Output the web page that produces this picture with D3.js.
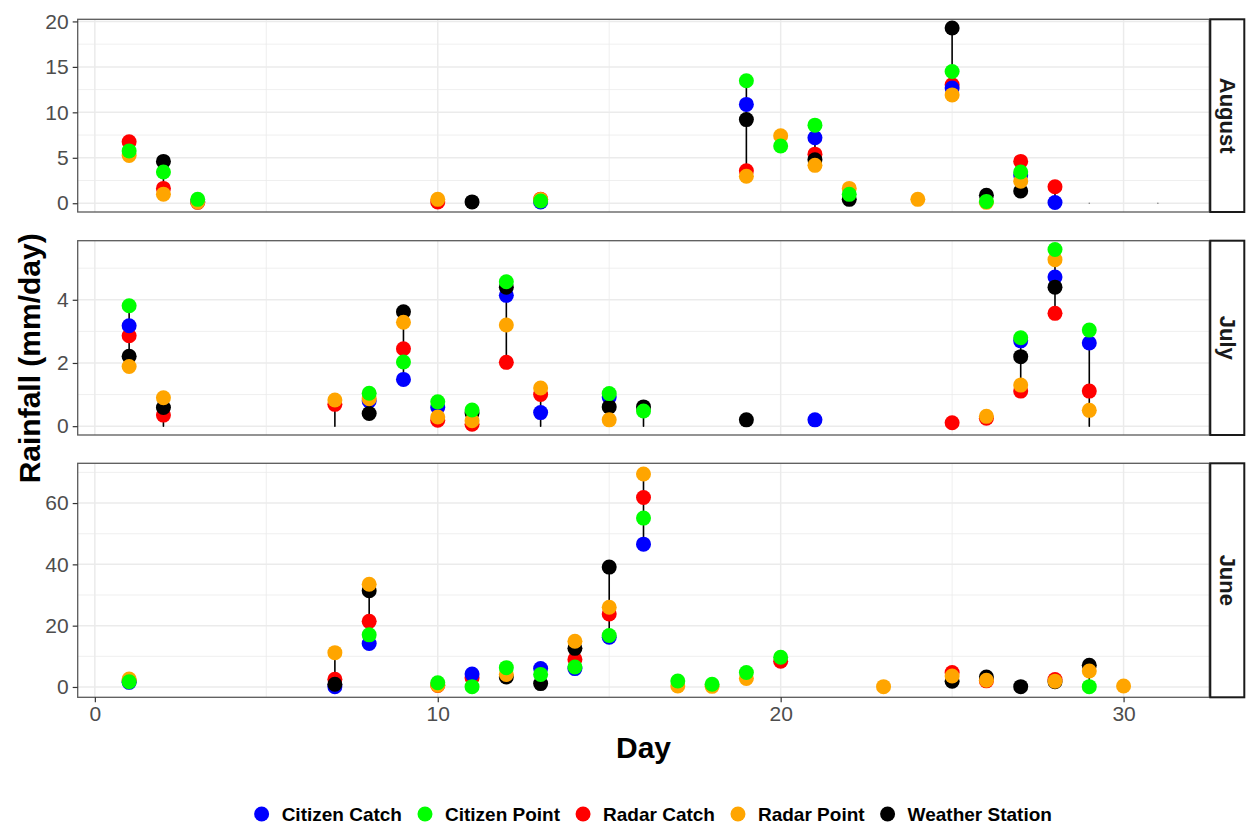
<!DOCTYPE html>
<html>
<head>
<meta charset="utf-8">
<script src="https://cdn.jsdelivr.net/npm/d3@7/dist/d3.min.js"></script>
<style>
  html, body { margin: 0; padding: 0; background: #ffffff; }
  svg { display: block; font-family: "Liberation Sans", Arial, Helvetica, sans-serif; }
</style>
</head>
<body>
<svg id="chart" width="1246" height="825"></svg>
<script>
// ---- Series and months -------------------------------------------------
const seriesNames = ["Citizen Catch", "Citizen Point", "Radar Catch", "Radar Point", "Weather Station"];
const seriesColors = ["#0000FF", "#00FF00", "#FF0000", "#FFA500", "#000000"];
// points are stacked in this order within a day (last one on top)
const drawOrder = ["Radar Catch", "Citizen Catch", "Weather Station", "Radar Point", "Citizen Point"];
const monthNames = ["August", "July", "June"];

// ---- Daily rainfall (mm/day); null = no reading, 0 = dry reading -------
const augustDays           = [1, 2, 3, 10, 11, 13, 19, 20, 21, 22, 24, 25, 26, 27, 28, 29, 31];
const augustCitizenCatch   = [null, null, 0.2, null, null, 0.15, 10.87, null, 7.21, null, null, 12.68, null, 3.1, 0.08, null, null];
const augustCitizenPoint   = [5.76, 3.44, 0.43, null, null, 0.25, 13.48, 6.3, 8.59, 0.98, null, 14.49, 0.2, 3.44, null, null, null];
const augustRadarCatch     = [6.77, 1.63, 0.1, 0.15, null, 0.45, 3.58, null, 5.4, null, null, 13.04, null, 4.6, 1.81, null, null];
const augustRadarPoint     = [5.25, 1.0, 0.15, 0.43, null, 0.4, 2.97, 7.43, 4.17, 1.63, 0.43, 11.92, 0.1, 2.43, null, null, null];
const augustWeatherStation = [null, 4.6, null, null, 0.15, null, 9.2, null, 4.78, 0.43, null, 19.27, 0.87, 1.34, null, 0, 0];

const julyDays           = [1, 2, 7, 8, 9, 10, 11, 12, 13, 15, 16, 19, 21, 25, 26, 27, 28, 29];
const julyCitizenCatch   = [3.18, 0, null, 0.8, 1.48, 0.59, null, 4.14, 0.43, 0.92, 0, null, 0.2, null, null, 2.7, 4.72, 2.63];
const julyCitizenPoint   = [3.81, null, null, 1.04, 2.03, 0.77, 0.51, 4.57, null, 1.03, 0.48, null, null, null, null, 2.8, 5.59, 3.04];
const julyRadarCatch     = [2.86, 0.35, 0.69, null, 2.45, 0.19, 0.06, 2.02, 1.0, null, null, null, null, 0.11, 0.25, 1.11, 3.57, 1.11];
const julyRadarPoint     = [1.89, 0.9, 0.83, 0.87, 3.29, 0.29, 0.17, 3.2, 1.21, 0.2, null, null, null, null, 0.31, 1.3, 5.27, 0.5];
const julyWeatherStation = [2.21, 0.59, 0, 0.4, 3.62, null, 0.42, 4.4, 0, 0.61, 0.61, 0.2, null, null, null, 2.2, 4.4, 0];

const juneDays           = [1, 7, 8, 10, 11, 12, 13, 14, 15, 16, 17, 18, 19, 20, 23, 25, 26, 27, 28, 29, 30];
const juneCitizenCatch   = [1.5, 0.1, 14.2, null, 4.2, null, 6.0, 6.0, 16.2, 46.6, null, null, null, null, null, null, null, null, null, null, null];
const juneCitizenPoint   = [1.7, null, 17.0, 1.4, 0.1, 6.3, 4.1, 6.5, 16.8, 55.1, 1.95, 0.9, 4.7, 9.7, null, null, null, null, null, 0.1, null];
const juneRadarCatch     = [2.0, 2.5, 21.4, 0.5, 3.0, null, null, 9.0, 23.8, 61.8, null, null, null, 8.4, null, 4.7, 2.0, null, 2.4, null, null];
const juneRadarPoint     = [2.6, 11.2, 33.5, 0.6, null, 4.1, null, 14.9, 26.0, 69.5, 0.3, 0.2, 2.8, null, 0.1, 3.6, 2.2, null, 1.9, 5.2, 0.3];
const juneWeatherStation = [null, 0.9, 31.4, null, null, 3.25, 1.1, 12.6, 39.1, null, null, null, null, null, null, 1.9, 3.25, 0.1, 1.7, 7.1, null];

// ---- Axis ticks ---------------------------------------------------------
const dayTicks = [0, 10, 20, 30];
const dayMinorTicks = [5, 15, 25];
const augustTicks = [0, 5, 10, 15, 20];
const julyTicks = [0, 2, 4];
const juneTicks = [0, 20, 40, 60];

// ---- Assemble long-format rows per month -------------------------------
function monthRows(days, cols) {
  const rows = [];
  days.forEach((d, i) => {
    seriesNames.forEach((s, k) => {
      const v = cols[k][i];
      if (v !== null && v !== undefined) rows.push({ day: d, series: s, value: v });
    });
  });
  return rows;
}
const panelsData = [
  { month: monthNames[0], ticks: augustTicks,
    rows: monthRows(augustDays, [augustCitizenCatch, augustCitizenPoint, augustRadarCatch, augustRadarPoint, augustWeatherStation]) },
  { month: monthNames[1], ticks: julyTicks,
    rows: monthRows(julyDays, [julyCitizenCatch, julyCitizenPoint, julyRadarCatch, julyRadarPoint, julyWeatherStation]) },
  { month: monthNames[2], ticks: juneTicks,
    rows: monthRows(juneDays, [juneCitizenCatch, juneCitizenPoint, juneRadarCatch, juneRadarPoint, juneWeatherStation]) }
];

// ---- Layout -------------------------------------------------------------
const svg = d3.select("#chart");
const plotLeft = 77.7, plotRight = 1209.3;
const stripWidth = 34;
const panelBoxes = [
  { top: 19.3, bottom: 212 },
  { top: 240.7, bottom: 435 },
  { top: 463.3, bottom: 697.3 }
];
const fontTick = 21, fontTitle = 30, fontStrip = 22, fontLegend = 19;
const pointR = 7.5;
const colorOf = d3.scaleOrdinal().domain(seriesNames).range(seriesColors);

// shared x scale, day range expanded by 5% on both sides
const allDays = panelsData.flatMap(p => p.rows.map(r => r.day));
const dayExt = d3.extent(allDays);
const dayPad = (dayExt[1] - dayExt[0]) * 0.05;
const x = d3.scaleLinear().domain([dayExt[0] - dayPad, dayExt[1] + dayPad]).range([plotLeft, plotRight]);

panelsData.forEach((p, pi) => {
  const box = panelBoxes[pi];
  const ext = d3.extent(p.rows, r => r.value);
  const pad = (ext[1] - ext[0]) * 0.05;
  const y = d3.scaleLinear().domain([ext[0] - pad, ext[1] + pad]).range([box.bottom, box.top]);

  const g = svg.append("g").attr("class", "panel");

  // background + grid
  g.append("rect").attr("x", plotLeft).attr("y", box.top)
    .attr("width", plotRight - plotLeft).attr("height", box.bottom - box.top).attr("fill", "#ffffff");

  const step = p.ticks[1] - p.ticks[0];
  const minorY = [];
  for (let v = p.ticks[0] + step / 2; v <= y.domain()[1]; v += step) minorY.push(v);
  const grid = g.append("g").attr("class", "grid");
  grid.selectAll("line.ymin").data(minorY).join("line")
    .attr("x1", plotLeft).attr("x2", plotRight)
    .attr("y1", d => y(d)).attr("y2", d => y(d))
    .attr("stroke", "#ebebeb").attr("stroke-width", 0.8);
  grid.selectAll("line.xmin").data(dayMinorTicks).join("line")
    .attr("x1", d => x(d)).attr("x2", d => x(d))
    .attr("y1", box.top).attr("y2", box.bottom)
    .attr("stroke", "#ebebeb").attr("stroke-width", 0.8);
  grid.selectAll("line.ymaj").data(p.ticks).join("line")
    .attr("x1", plotLeft).attr("x2", plotRight)
    .attr("y1", d => y(d)).attr("y2", d => y(d))
    .attr("stroke", "#ebebeb").attr("stroke-width", 1.5);
  grid.selectAll("line.xmaj").data(dayTicks).join("line")
    .attr("x1", d => x(d)).attr("x2", d => x(d))
    .attr("y1", box.top).attr("y2", box.bottom)
    .attr("stroke", "#ebebeb").attr("stroke-width", 1.5);

  // daily range lines (min to max over all readings of that day)
  const byDay = d3.rollups(p.rows, v => d3.extent(v, r => r.value), r => r.day);
  g.append("g").selectAll("line").data(byDay).join("line")
    .attr("x1", d => x(d[0])).attr("x2", d => x(d[0]))
    .attr("y1", d => y(d[1][0])).attr("y2", d => y(d[1][1]))
    .attr("stroke", "#000000").attr("stroke-width", 1.6).attr("stroke-linecap", "round")
    .attr("stroke-opacity", d => d[1][0] === d[1][1] ? 0.45 : 1);

  // points: dry readings only extend the range line
  const pts = g.append("g");
  drawOrder.forEach(s => {
    pts.selectAll(null).data(p.rows.filter(r => r.series === s && r.value > 0)).join("circle")
      .attr("cx", d => x(d.day)).attr("cy", d => y(d.value)).attr("r", pointR)
      .attr("fill", colorOf(s));
  });

  // panel border
  g.append("rect").attr("x", plotLeft).attr("y", box.top)
    .attr("width", plotRight - plotLeft).attr("height", box.bottom - box.top)
    .attr("fill", "none").attr("stroke", "#5a5a5a").attr("stroke-width", 1.3);

  // y axis
  const ya = g.append("g").attr("transform", `translate(${plotLeft},0)`)
    .call(d3.axisLeft(y).tickValues(p.ticks).tickSize(5).tickPadding(4).tickFormat(d3.format("d")));
  ya.select(".domain").remove();
  ya.selectAll(".tick line").attr("stroke", "#333333").attr("stroke-width", 1.2);
  ya.selectAll(".tick text").attr("fill", "#4d4d4d").style("font-size", fontTick + "px");

  // strip on the right
  g.append("rect").attr("x", plotRight + 1).attr("y", box.top)
    .attr("width", stripWidth).attr("height", box.bottom - box.top)
    .attr("fill", "#ffffff").attr("stroke", "#1a1a1a").attr("stroke-width", 2);
  const sx = plotRight + 1 + stripWidth / 2, sy = (box.top + box.bottom) / 2;
  g.append("text").attr("transform", `translate(${sx},${sy}) rotate(90)`)
    .attr("text-anchor", "middle").attr("dy", "0.35em")
    .style("font-size", fontStrip + "px").style("font-weight", "bold").attr("fill", "#1a1a1a")
    .text(p.month);

  // x axis under the bottom panel
  if (pi === panelsData.length - 1) {
    const xa = g.append("g").attr("transform", `translate(0,${box.bottom})`)
      .call(d3.axisBottom(x).tickValues(dayTicks).tickSize(5).tickPadding(4).tickFormat(d3.format("d")));
    xa.select(".domain").remove();
    xa.selectAll(".tick line").attr("stroke", "#333333").attr("stroke-width", 1.2);
    xa.selectAll(".tick text").attr("fill", "#4d4d4d").style("font-size", fontTick + "px");
  }
});

// axis titles
svg.append("text").attr("x", (plotLeft + plotRight) / 2).attr("y", 758)
  .attr("text-anchor", "middle").style("font-size", fontTitle + "px").style("font-weight", "bold")
  .text("Day");
svg.append("text").attr("transform", `translate(40,${(panelBoxes[0].top + panelBoxes[2].bottom) / 2}) rotate(-90)`)
  .attr("text-anchor", "middle").style("font-size", fontTitle + "px").style("font-weight", "bold")
  .text("Rainfall (mm/day)");

// legend: key circle, label, then a fixed gap before the next key
const legend = svg.append("g");
const legendY = 814;
const keyToText = 20, itemGap = 23;
let cursor = 0;
seriesNames.forEach(s => {
  const it = legend.append("g").attr("transform", `translate(${cursor},${legendY})`);
  it.append("circle").attr("cx", 0).attr("cy", 0).attr("r", pointR).attr("fill", colorOf(s));
  const t = it.append("text").attr("x", keyToText).attr("dy", "0.36em")
    .style("font-size", fontLegend + "px").style("font-weight", "bold").text(s);
  cursor += keyToText + t.node().getComputedTextLength() + itemGap;
});
const legendWidth = pointR + cursor - itemGap;
const legendCenter = 653;
legend.attr("transform", `translate(${legendCenter - legendWidth / 2 + pointR},0)`);
</script>
</body>
</html>
